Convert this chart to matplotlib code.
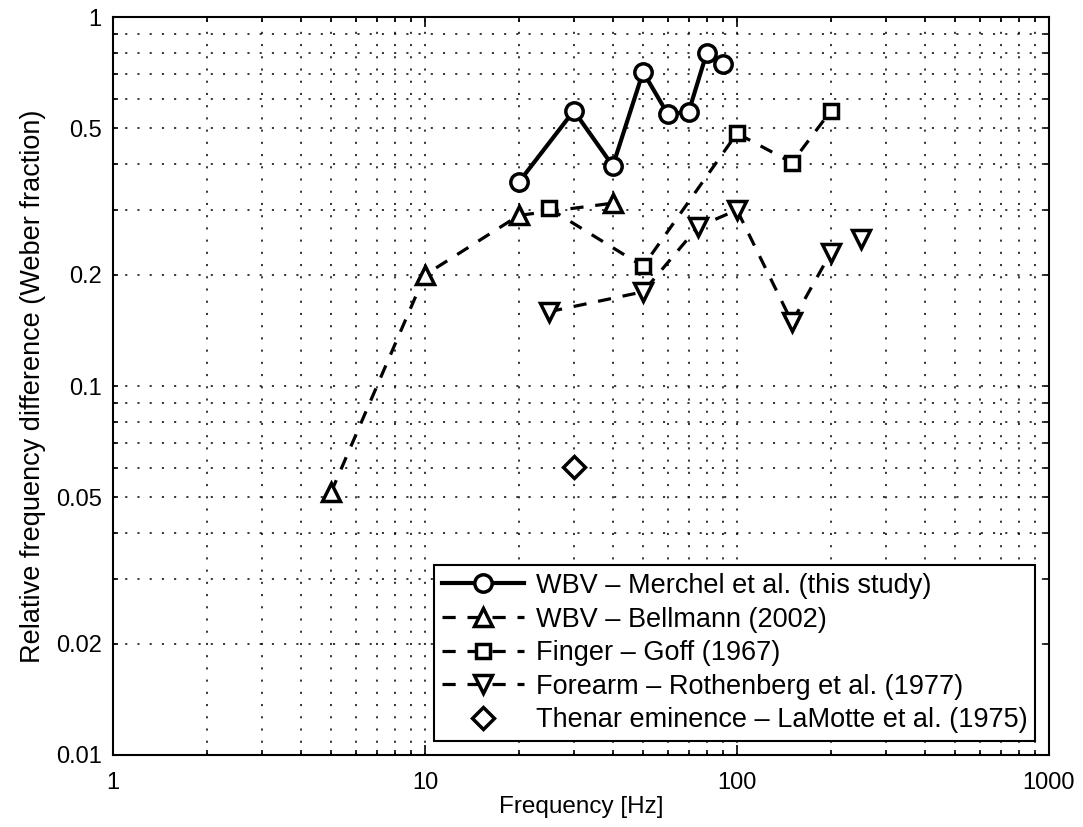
import matplotlib
matplotlib.use("Agg")
from matplotlib import pyplot as plt
from matplotlib.ticker import FixedLocator, NullFormatter

plt.rcParams['font.family'] = ['Liberation Sans', 'DejaVu Sans']
plt.rcParams['lines.scale_dashes'] = False

# Merchel et al. (this study)
merchel_f = [20, 30, 40, 50, 60, 70, 80, 90]
merchel_w = [0.357, 0.557, 0.395, 0.71, 0.546, 0.553, 0.80, 0.746]

# Bellmann (2002)
bellmann_f = [5, 10, 20, 40]
bellmann_w = [0.0515, 0.2, 0.29, 0.313]

# Goff (1967)
goff_f = [25, 50, 100, 150, 200]
goff_w = [0.303, 0.211, 0.484, 0.403, 0.557]

# Rothenberg et al. (1977)
roth_f = [25, 50, 75, 100, 150, 200]
roth_w = [0.159, 0.18, 0.27, 0.30, 0.149, 0.23]
roth_extra_f = [250]
roth_extra_w = [0.25]

# LaMotte et al. (1975)
lamotte_f = [30]
lamotte_w = [0.0604]

y_ticks = [0.01, 0.02, 0.05, 0.1, 0.2, 0.5, 1]
y_ticklabels = ['0.01', '0.02', '0.05', '0.1', '0.2', '0.5', '1']
x_ticks = [1, 10, 100, 1000]
x_ticklabels = ['1', '10', '100', '1000']

fig = plt.figure(figsize=(10.83, 8.27), dpi=100)
ax = fig.add_axes([0.1043, 0.0871, 0.8643, 0.8923])
ax.set_xscale('log')
ax.set_yscale('log')

dash = (0, (9.5, 8.5))
mkw = dict(color='black', markerfacecolor='white', markeredgecolor='black', markeredgewidth=2.5)

ax.plot(merchel_f, merchel_w, '-', lw=3.0, marker='o', ms=12.5,
        label='WBV \u2013 Merchel et al. (this study)', zorder=5, **mkw)
ax.plot(bellmann_f, bellmann_w, linestyle=dash, lw=2.3, marker='^', ms=13.5,
        label='WBV \u2013 Bellmann (2002)', zorder=4, **mkw)
ax.plot(goff_f, goff_w, linestyle=dash, lw=2.3, marker='s', ms=10.5,
        label='Finger \u2013 Goff (1967)', zorder=4, **mkw)
ax.plot(roth_f, roth_w, linestyle=dash, lw=2.3, marker='v', ms=13.5,
        label='Forearm \u2013 Rothenberg et al. (1977)', zorder=4, **mkw)
ax.plot(roth_extra_f, roth_extra_w, linestyle='none', marker='v', ms=13.5, zorder=4, **mkw)
ax.plot(lamotte_f, lamotte_w, linestyle='none', marker='D', ms=11,
        label='Thenar eminence \u2013 LaMotte et al. (1975)', zorder=4, **mkw)

ax.set_xlim(1, 1000)
ax.set_ylim(0.01, 1)

ax.xaxis.set_major_locator(FixedLocator(x_ticks))
ax.set_xticklabels(x_ticklabels)
x_minor = [m * d for d in (1, 10, 100) for m in range(2, 10)]
ax.xaxis.set_minor_locator(FixedLocator(x_minor))
ax.xaxis.set_minor_formatter(NullFormatter())

ax.yaxis.set_major_locator(FixedLocator(y_ticks))
ax.set_yticklabels(y_ticklabels)
y_minor = [m * d for d in (0.01, 0.1) for m in (3, 4, 6, 7, 8, 9)]
ax.yaxis.set_minor_locator(FixedLocator(y_minor))
ax.yaxis.set_minor_formatter(NullFormatter())

grid_ls = (0, (1.5, 7.3))
ax.grid(True, which='both', color='black', linestyle=grid_ls, lw=1.1)
ax.set_axisbelow(True)

ax.tick_params(which='both', direction='in', top=True, right=True,
               labelsize=17, width=1.2)
ax.tick_params(axis='x', which='major', length=7, pad=12)
ax.tick_params(axis='x', which='minor', length=3.6)
ax.tick_params(axis='y', which='both', length=3.8, pad=8)
for s in ax.spines.values():
    s.set_linewidth(1.5)

ax.set_xlabel('Frequency [Hz]', fontsize=17.5, labelpad=2)
ax.set_ylabel('Relative frequency difference (Weber fraction)', fontsize=19.5, labelpad=7)

leg = ax.legend(loc='lower right', fontsize=19.5, frameon=True, fancybox=False,
                edgecolor='black', framealpha=1, borderpad=0.3, labelspacing=0.28,
                handlelength=3.0, handletextpad=0.45, borderaxespad=0.5)
leg.get_frame().set_linewidth(1.5)

fig.savefig('out.png', dpi=100)
